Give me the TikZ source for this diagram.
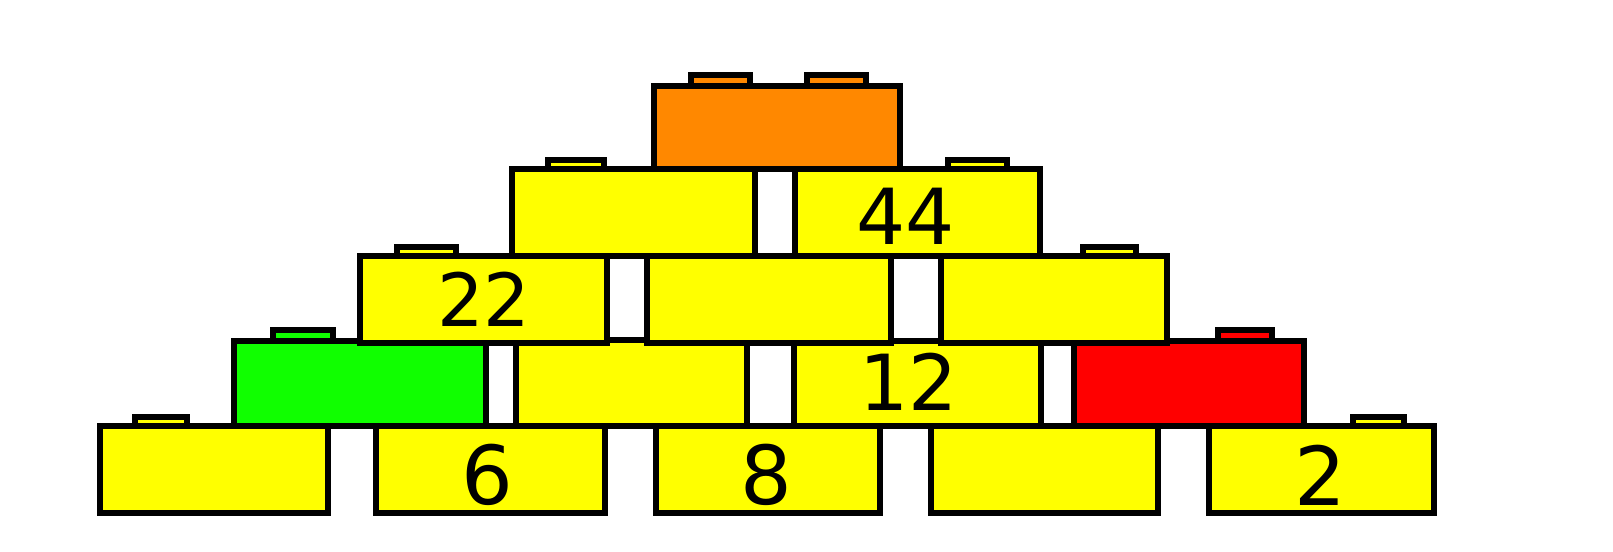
\documentclass[tikz,border=0pt]{standalone}
\usepackage{xcolor}
\usepackage{fontspec}
\setmainfont{DejaVu Sans}
\usepackage{tikz}

\begin{document}
\begin{tikzpicture}[x=0.75pt,y=0.75pt,yscale=-1,xscale=1,
  brick/.style={draw=black,line width=4},
  ybrick/.style={brick,fill={rgb, 255:red, 255; green, 255; blue, 0 }},
  obrick/.style={brick,fill={rgb, 255:red, 255; green, 136; blue, 0 }},
  gbrick/.style={brick,fill={rgb, 255:red, 16; green, 255; blue, 0 }},
  rbrick/.style={brick,fill={rgb, 255:red, 255; green, 0; blue, 0 }},
  num/.style={inner sep=0,font=\fontsize{55}{66}\selectfont},
  bignum/.style={inner sep=0,font=\fontsize{61}{73}\selectfont}]
\useasboundingbox (0,0) rectangle (1613,551);
%Shape: Rectangle (bottom row studs)
\draw [ybrick] (135,417) rectangle (187,426) ;
\draw [ybrick] (1353,417) rectangle (1404,426) ;
%Shape: Rectangle (bottom row)
\draw [ybrick] (100,426) rectangle (328,513) ;
\draw [ybrick] (376,426) rectangle (605,513) ;
\draw [ybrick] (656,426) rectangle (880,513) ;
\draw [ybrick] (931,426) rectangle (1158,513) ;
\draw [ybrick] (1209,426) rectangle (1434,513) ;
%Shape: Rectangle (second row studs)
\draw [gbrick] (273,330) rectangle (333,341) ;
\draw [rbrick] (1218,330) rectangle (1272,341) ;
%Shape: Rectangle (second row)
\draw [gbrick] (234,341) rectangle (486,426) ;
\draw [ybrick] (516,340) rectangle (747,426) ;
\draw [ybrick] (794,341) rectangle (1041,426) ;
\draw [rbrick] (1074,341) rectangle (1304,426) ;
%Shape: Rectangle (third row studs)
\draw [ybrick] (397,247) rectangle (456,256) ;
\draw [ybrick] (1083,247) rectangle (1136,256) ;
%Shape: Rectangle (third row)
\draw [ybrick] (360,256) rectangle (607,343) ;
\draw [ybrick] (647,256) rectangle (891,343) ;
\draw [ybrick] (941,256) rectangle (1167,343) ;
%Shape: Rectangle (fourth row studs)
\draw [ybrick] (548,160) rectangle (604,169) ;
\draw [ybrick] (948,160) rectangle (1007,169) ;
%Shape: Rectangle (fourth row)
\draw [ybrick] (512,169) rectangle (755,256) ;
\draw [ybrick] (795,169) rectangle (1040,256) ;
%Shape: Rectangle (top studs)
\draw [obrick] (691,75) rectangle (750,86) ;
\draw [obrick] (807,75) rectangle (866,86) ;
%Shape: Rectangle (top)
\draw [obrick] (654,86) rectangle (900,169) ;
% Text Node
\node [bignum] (six) at (487,475) {6};
% Text Node
\node [bignum] (eight) at (766,475) {8};
% Text Node
\node [bignum] (two) at (1320,475) {2};
% Text Node
\node [num,font=\fontsize{58}{70}\selectfont] (twelve) at (909,382) {12};
% Text Node
\node [num] (twentytwo) at (484,299) {22};
% Text Node
\node [num,font=\fontsize{58}{70}\selectfont] (fortyfour) at (906,216) {44};
\end{tikzpicture}
\end{document}
